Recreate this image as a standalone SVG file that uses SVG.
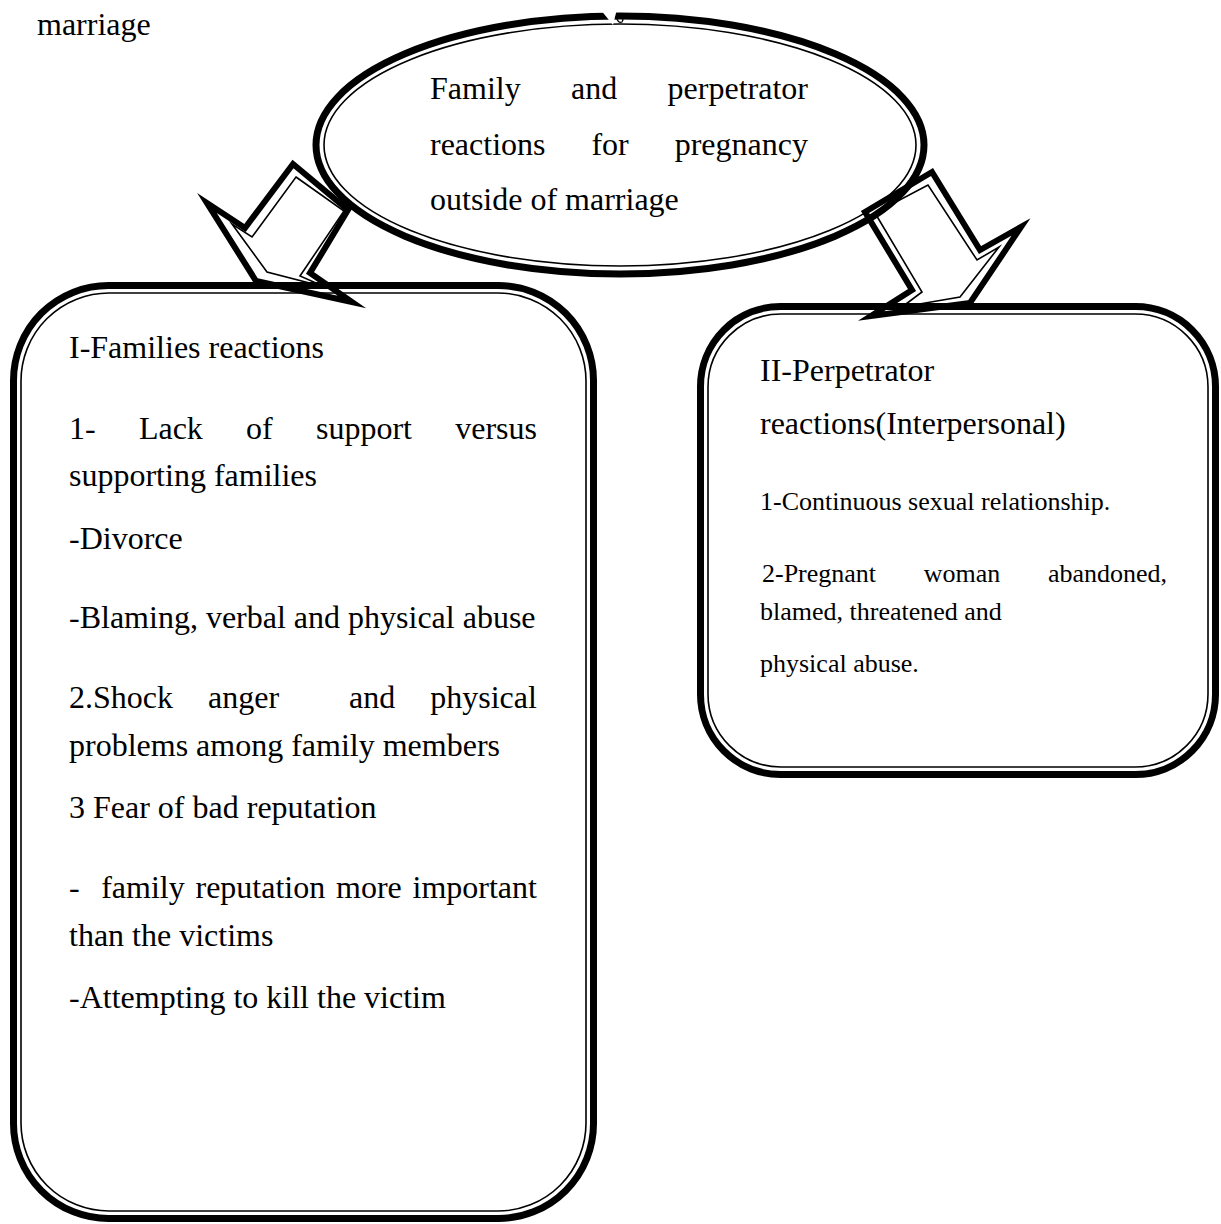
<svg xmlns="http://www.w3.org/2000/svg" width="1221" height="1224" viewBox="0 0 1221 1224">
<style>
.thick{fill:none;stroke:#000;stroke-width:7;stroke-linejoin:miter;stroke-miterlimit:20}
.thin{fill:none;stroke:#000;stroke-width:1.6;stroke-linejoin:miter;stroke-miterlimit:20}
.athick{fill:none;stroke:#000;stroke-width:6;stroke-linejoin:miter;stroke-miterlimit:20}
text{font-family:"Liberation Serif","Times New Roman",serif;fill:#000}
.t32{font-size:32px}
.t26{font-size:26px}
</style>
<rect width="1221" height="1224" fill="#fff"/>
<text class="t32" x="37" y="35">marriage</text>

<g id="node-center">
<ellipse cx="620" cy="145" rx="304" ry="129" fill="#fff" class="thick"/>
<ellipse cx="620" cy="145" rx="296" ry="121" class="thin"/>
<polygon points="600,9 613,25 617,9" fill="#fff"/>
<path d="M616,16 q2,8 6,6 q2,-3 0,-6" fill="none" stroke="#000" stroke-width="1.2"/>
<text class="t32" y="99"><tspan x="430">Family</tspan><tspan x="571">and</tspan><tspan x="667.6">perpetrator</tspan></text>
<text class="t32" y="155"><tspan x="430">reactions</tspan><tspan x="591.4">for</tspan><tspan x="674.7">pregnancy</tspan></text>
<text class="t32" x="430" y="210">outside of marriage</text>
</g>

<g id="connectors">
<polygon class="athick" points="293,164 348,210 310,273 352,302 256,281 207,203 245,228"/>
<polygon class="thin" points="296,177 344,211 300,276 325,287 267,272 232,224 252,237"/>
<polygon class="athick" points="865,212 932,172 980,250 1021,227 970,303 871,316 912,290"/>
<polygon class="thin" points="875,213 928,185 977,260 999,247 960,297 902,307 922,292"/>
</g>

<g id="node-families">
<rect x="13.5" y="285.5" width="580" height="933" rx="95" ry="95" class="thick"/>
<rect x="21" y="293" width="565" height="918" rx="88" ry="88" class="thin"/>
<text class="t32" x="69" y="358">I-Families reactions</text>
<text class="t32" y="439"><tspan x="69">1-</tspan><tspan x="138.9">Lack</tspan><tspan x="246.1">of</tspan><tspan x="316">support</tspan><tspan x="455.2">versus</tspan></text>
<text class="t32" x="69" y="486">supporting families</text>
<text class="t32" x="69" y="549">-Divorce</text>
<text class="t32" x="69" y="628">-Blaming, verbal and physical abuse</text>
<text class="t32" y="708"><tspan x="69">2.Shock</tspan><tspan x="208">anger</tspan><tspan x="349">and</tspan><tspan x="430.2">physical</tspan></text>
<text class="t32" x="69" y="756">problems among family members</text>
<text class="t32" x="69" y="818">3 Fear of bad reputation</text>
<text class="t32" y="898"><tspan x="69">-</tspan><tspan x="101.2">family</tspan><tspan x="195.5">reputation</tspan><tspan x="336">more</tspan><tspan x="412.5">important</tspan></text>
<text class="t32" x="69" y="946">than the victims</text>
<text class="t32" x="69" y="1008">-Attempting to kill the victim</text>
</g>

<g id="node-perpetrator">
<rect x="700.5" y="306.5" width="515" height="468" rx="80" ry="80" class="thick"/>
<rect x="708" y="314" width="500" height="453" rx="73" ry="73" class="thin"/>
<text class="t32" x="760" y="381">II-Perpetrator</text>
<text class="t32" x="760" y="434">reactions(Interpersonal)</text>
<text class="t26" x="760" y="510">1-Continuous sexual relationship.</text>
<text class="t26" y="582"><tspan x="762">2-Pregnant</tspan><tspan x="923.7">woman</tspan><tspan x="1047.9">abandoned,</tspan></text>
<text class="t26" x="760" y="620">blamed, threatened and</text>
<text class="t26" x="760" y="672">physical abuse.</text>
</g>
</svg>
